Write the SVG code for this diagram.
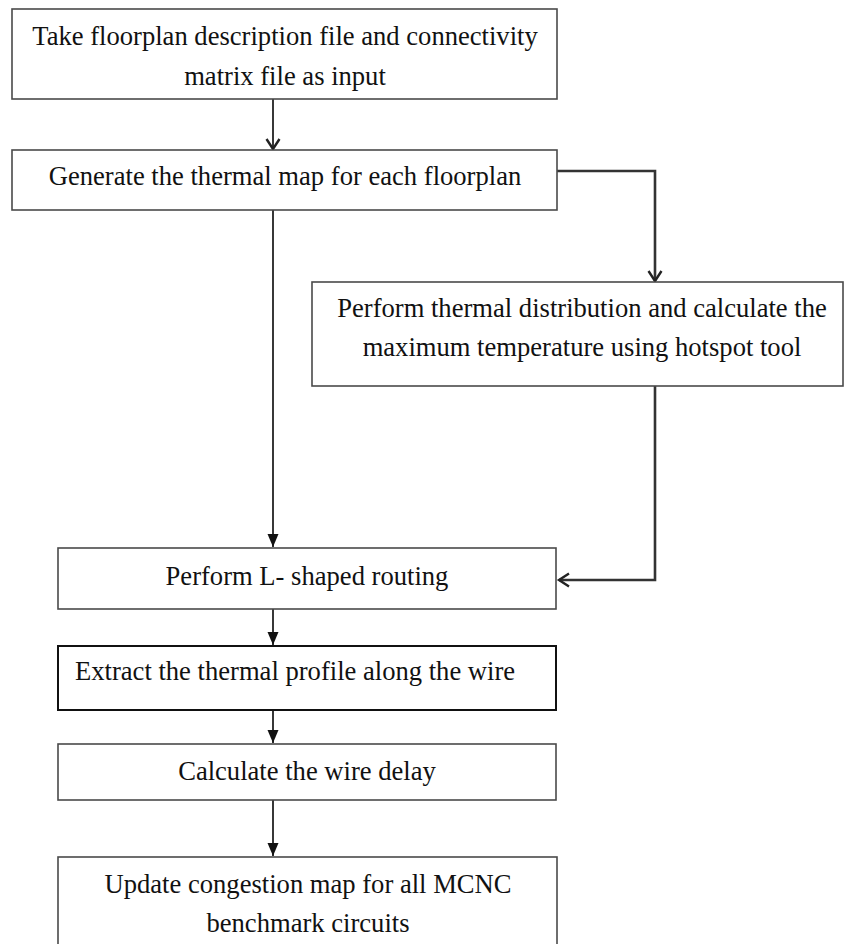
<svg xmlns="http://www.w3.org/2000/svg" width="844" height="944" viewBox="0 0 844 944">
<style>
.box{fill:#fff;stroke:#4a4a4a;stroke-width:1.6}
.dk{stroke:#111;stroke-width:2}
.t{font-family:"Liberation Serif","Times New Roman",serif;font-size:26.6px;fill:#111;text-anchor:middle}
.t.s{text-anchor:start}
.c{fill:none;stroke:#222;stroke-width:1.8}
.w{fill:none;stroke:#333;stroke-width:2.6}
</style>
<defs>
<marker id="v" markerWidth="16" markerHeight="16" refX="13" refY="8" orient="auto" markerUnits="userSpaceOnUse">
<path d="M3,1.5 L13,8 L3,14.5" fill="none" stroke="#222" stroke-width="2.4"/>
</marker>
<marker id="f" markerWidth="14" markerHeight="14" refX="13" refY="7" orient="auto" markerUnits="userSpaceOnUse">
<path d="M0,1.5 L13,7 L0,12.5 Z" fill="#111"/>
</marker>
</defs>
<g id="connectors">
<line class="c" x1="273" y1="99" x2="273" y2="149" marker-end="url(#v)"/>
<polyline class="w" points="557,171 655,171 655,281" marker-end="url(#v)"/>
<line class="c" x1="273" y1="210" x2="273" y2="547" marker-end="url(#f)"/>
<polyline class="w" points="655,386 655,580 559,580" marker-end="url(#v)"/>
<line class="c" x1="273" y1="609" x2="273" y2="645" marker-end="url(#f)"/>
<line class="c" x1="273" y1="710" x2="273" y2="743" marker-end="url(#f)"/>
<line class="c" x1="273" y1="800" x2="273" y2="856" marker-end="url(#f)"/>
</g>
<g id="n1"><rect class="box" x="12" y="9" width="545" height="90"/>
<text class="t" x="285" y="45">Take floorplan description file and connectivity</text>
<text class="t" x="285" y="85">matrix file as input</text></g>
<g id="n2"><rect class="box" x="12" y="150" width="545" height="60"/>
<text class="t" x="285" y="185">Generate the thermal map for each floorplan</text></g>
<g id="n3"><rect class="box" x="312" y="282" width="531" height="104"/>
<text class="t" x="582" y="317">Perform thermal distribution and calculate the</text>
<text class="t" x="582" y="356">maximum temperature using hotspot tool</text></g>
<g id="n4"><rect class="box" x="58" y="548" width="498" height="61"/>
<text class="t" x="307" y="585">Perform L- shaped routing</text></g>
<g id="n5"><rect class="box dk" x="58" y="646" width="498" height="64"/>
<text class="t s" x="75" y="680">Extract the thermal profile along the wire</text></g>
<g id="n6"><rect class="box" x="58" y="744" width="498" height="56"/>
<text class="t" x="307" y="780">Calculate the wire delay</text></g>
<g id="n7"><rect class="box" x="58" y="857" width="499" height="100"/>
<text class="t" x="308" y="893">Update congestion map for all MCNC</text>
<text class="t" x="308" y="932">benchmark circuits</text></g>
</svg>
